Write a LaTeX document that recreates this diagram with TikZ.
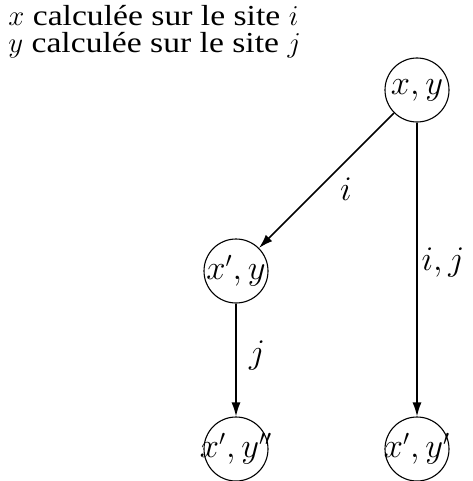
\documentclass[tikz,border=0pt]{standalone}
\usepackage{fontspec}
\setmainfont[FakeStretch=1.16]{Liberation Serif}
\usetikzlibrary{arrows.meta}
\newcommand\circlbl[1]{\makebox[0pt]{$#1$}}
\begin{document}
\begin{tikzpicture}[x=0.5pt,y=-0.5pt,
  state/.style={draw,circle,line width=0.55pt,minimum size=32pt,inner sep=0pt,font=\fontsize{16}{18}\selectfont},
  edge/.style={line width=0.75pt,-{Latex[length=7pt,width=4.5pt]}},
  lab/.style={font=\fontsize{16.5}{18}\selectfont},
  txt/.style={anchor=base west,inner sep=0pt,font=\fontsize{14.5}{16}\selectfont}]
\useasboundingbox (0,0) rectangle (472,481);
\node[txt] (t1) at (8,26) {$x$ calculée sur le site $i$};
\node[txt] (t2) at (8,53) {$y$ calculée sur le site $j$};
\node[state] (a) at (417,90) {\circlbl{x,y}};
\node[state] (b) at (236,271) {\circlbl{x',y}};
\node[state] (c) at (236,449) {\circlbl{x',y''}};
\node[state] (d) at (417,449) {\circlbl{x',y'}};
\draw[edge] (a) -- (b);
\draw[edge] (b) -- (c);
\draw[edge] (a) -- (d);
\node[lab] (li) at (346,189) {$i$};
\node[lab] (lij) at (443,263) {$i,j$};
\node[lab] (lj) at (257,356) {$j$};
\end{tikzpicture}
\end{document}
